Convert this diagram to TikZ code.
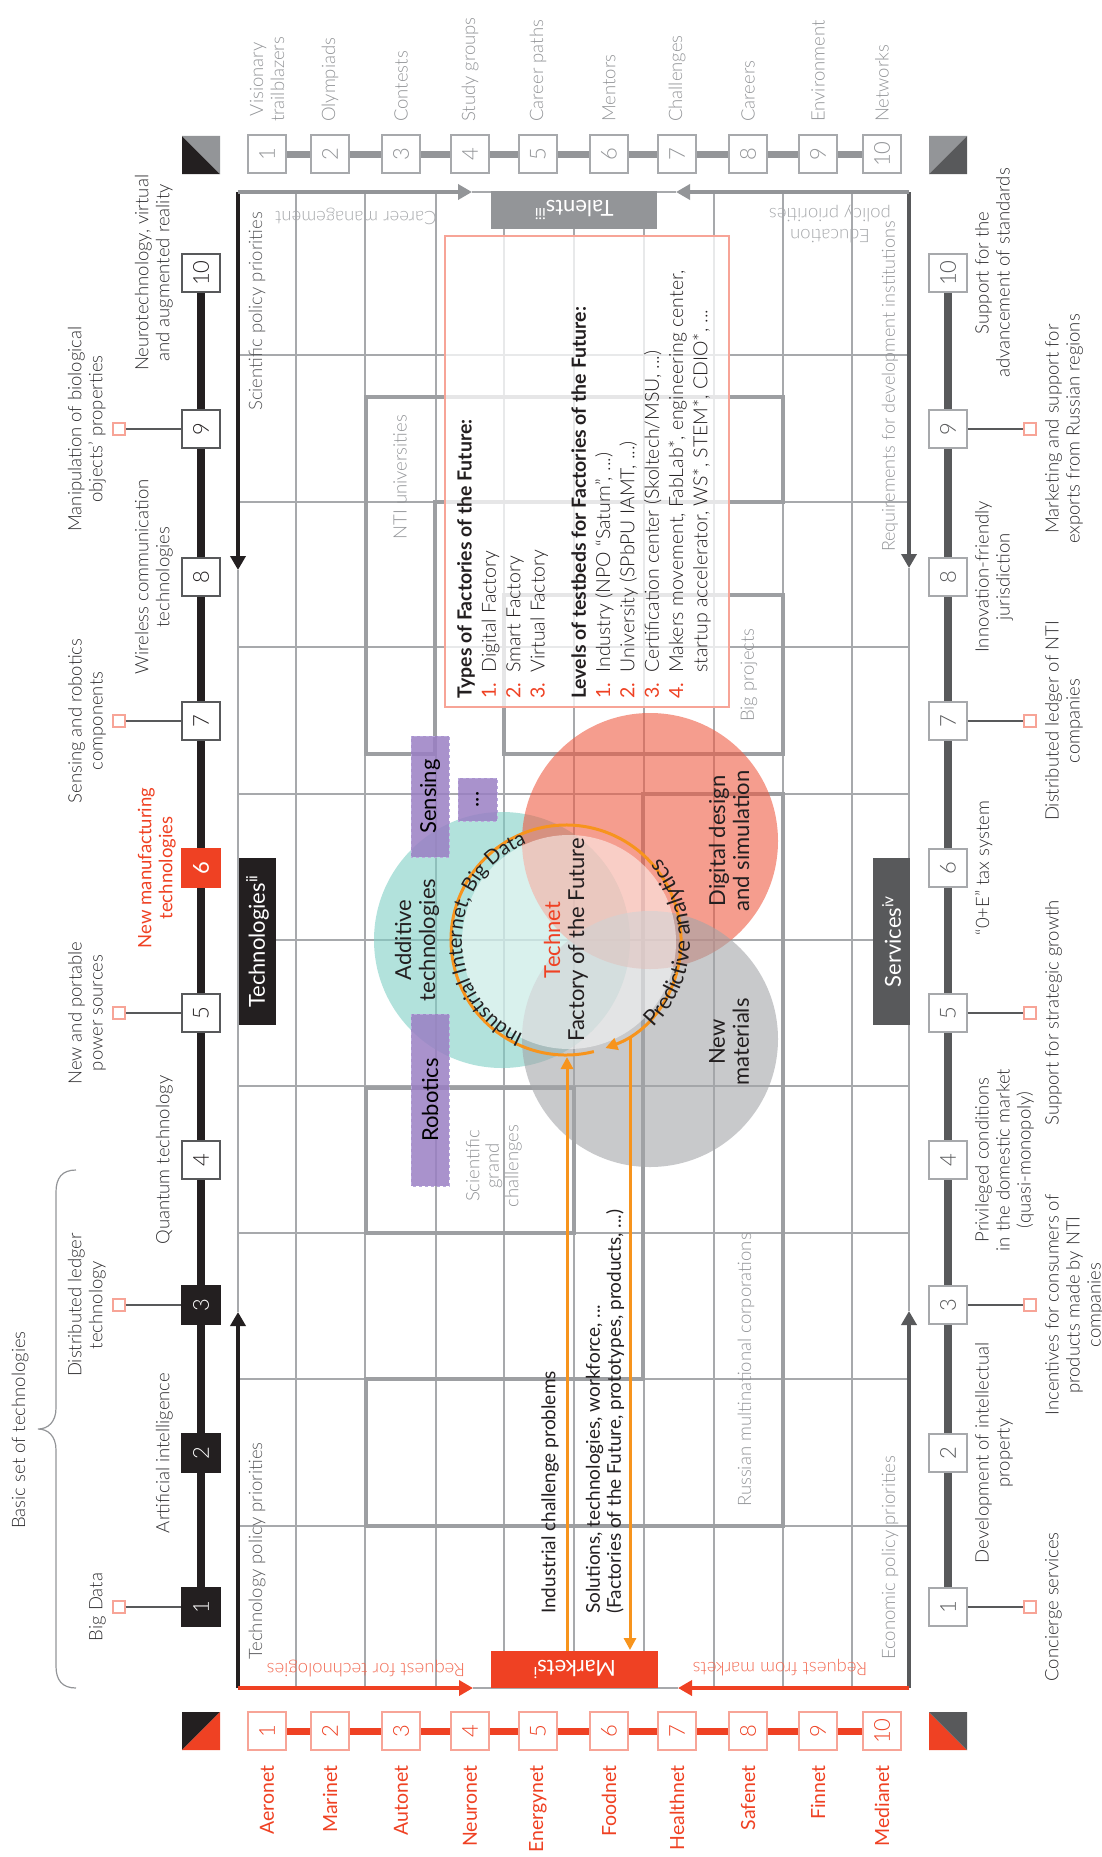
\documentclass[tikz,border=0pt]{standalone}
\usepackage{fontspec}
\setmainfont{Lato}[UprightFont={* Light}, BoldFont={* Bold}]
\newfontfamily\lreg{Lato}
\usetikzlibrary{arrows.meta,decorations.text}
\definecolor{nred}{HTML}{EF4123}
\definecolor{nsalmon}{HTML}{F7A497}
\definecolor{nblack}{HTML}{231F20}
\definecolor{ndark}{HTML}{58595B}
\definecolor{nmid}{HTML}{939598}
\definecolor{ngrid}{HTML}{A7A9AC}
\definecolor{nout}{HTML}{9D9FA2}
\definecolor{nlabel}{HTML}{2F2E30}
\definecolor{nlight}{HTML}{A7A9AC}
\definecolor{norange}{HTML}{F7941D}
\definecolor{nteal}{HTML}{7FCFC5}
\definecolor{ncoral}{HTML}{EE5C43}
\definecolor{ngrayc}{HTML}{A3A5A8}
\definecolor{npurple}{HTML}{9A7FC3}
\definecolor{npurpleb}{HTML}{B8A8DC}
\definecolor{nreqred}{HTML}{F26C55}
\newcommand{\fsz}[2]{\fontsize{#1}{#2}\selectfont}
\newcommand{\flnum}[1]{\makebox[1.35em][l]{\textcolor{nred}{\lreg #1}}}
\tikzset{
  numbox/.style={rotate=90, minimum size=38pt, inner sep=0pt, line width=1.3pt, font=\fsz{22}{22}},
  sqr/.style={draw=nsalmon, fill=white, minimum size=12pt, inner sep=0pt, line width=1.2pt},
  conn/.style={draw=ndark, line width=1.1pt},
  gridl/.style={draw=ngrid, line width=1.1pt},
  outl/.style={draw=nout, line width=3.2pt},
  lbl/.style={rotate=90, inner sep=0pt, align=center, text=nlabel, font=\fsz{18.5}{21}},
  flipped/.style={rotate=180, inner sep=0pt, align=center, font=\fsz{18.5}{21}},
  arrowtip/.style={-{Triangle[length=14pt,width=15pt]}},
  otip/.style={-{Triangle[length=12pt,width=12pt]}},
  titlebox/.style={inner sep=0pt, text=white, font=\lreg\fsz{22}{22}},
  pbox/.style={draw=npurpleb, dashed, line width=1pt, fill=npurple, fill opacity=.85, text opacity=1, rotate=90, inner sep=0pt, font=\lreg\fsz{22}{22}},
  circlbl/.style={rotate=90, inner sep=0pt, align=center, text=nblack, font=\lreg\fsz{22}{24}},
}
\begin{document}
\begin{tikzpicture}[x=1pt,y=-1pt]
\useasboundingbox (0,0) rectangle (1101,1857);

% ---------- grid ----------
\foreach \y in {355,502,647,794,940,1086,1233,1379,1526} \draw[gridl] (237,\y) -- (909,\y);
\foreach \x in {296,365,436,504,574,644,714,783,852} \draw[gridl] (\x,192) -- (\x,1688);

% ---------- thick outlines ----------
\draw[outl] (366,397) -- (783,397) -- (783,502) -- (435,502) -- (435,754) -- (366,754) -- cycle;
\draw[outl] (504,595) rectangle (783,754);
\draw[outl] (366,1088) rectangle (574,1233);
\draw[outl] (643,794) -- (783,794) -- (783,1526) -- (366,1526) -- (366,1379) -- (643,1379) -- cycle;

% ---------- circles ----------
\fill[nteal, opacity=.6] (502,940) circle[radius=128];
\fill[ncoral, opacity=.6] (650,841) circle[radius=128];
\fill[ngrayc, opacity=.6] (650,1039) circle[radius=128];
\fill[white, opacity=.5] (569,942) circle[radius=107];

% ---------- factory box ----------
\node[draw=nsalmon, fill=white, fill opacity=.75, line width=1.2pt, minimum width=284pt, minimum height=471pt, inner sep=0pt] (fbox) at (587,471.5) {};
\node[rotate=90, anchor=north west, align=left, inner sep=0pt, text=nblack, font=\fsz{19.5}{24.3}] (fbtext) at (457,699) {%
\textbf{Types of Factories of the Future:}\\
\flnum{1.}Digital Factory\\
\flnum{2.}Smart Factory\\
\flnum{3.}Virtual Factory\\[17pt]
\textbf{Levels of testbeds for Factories of the Future:}\\
\flnum{1.}Industry (NPO “Saturn”, ...)\\
\flnum{2.}University (SPbPU IAMT, ...)\\
\flnum{3.}Certification center (Skoltech/MSU, ...)\\
\flnum{4.}Makers movement, FabLab*, engineering center,\\
\hspace*{1.35em}startup accelerator, WS*, STEM*, CDIO*, ...};

% ---------- purple boxes ----------
\node[pbox, minimum width=172pt, minimum height=38pt] (robotics) at (430,1100) {Robotics};
\node[pbox, minimum width=121pt, minimum height=38pt] (sensing) at (430,796.5) {Sensing};
\node[pbox, minimum width=43pt, minimum height=39pt] (dots) at (477.5,799.5) {...};

% ---------- orange cycle ----------
\coordinate (oc) at (566,940);
\draw[norange, line width=3pt, otip] (oc) ++(76:115) arc[start angle=76, end angle=430, radius=115];
\coordinate (o1b) at (567,1651);
\coordinate (o1t) at (567,1057);
\coordinate (o2t) at (630,1036);
\coordinate (o2b) at (630,1650);
\draw[norange, line width=3pt, otip] (o1b) -- (o1t);
\draw[norange, line width=3pt, otip] (o2t) -- (o2b);
\path[decorate, decoration={text along path, text align=center, text color=nblack,
  text={|\lreg\fsz{20}{20}|Industrial Internet{,} Big Data}}]
  (oc) ++(98:104) arc[start angle=98, end angle=264, radius=104];
\path[decorate, decoration={text along path, text align=center, text color=nblack,
  text={|\lreg\fsz{22}{22}|Predictive analytics}}]
  (oc) ++(52:124) arc[start angle=52, end angle=-48, radius=124];

% circle texts
\node[circlbl] (additive) at (417,940) {Additive\\technologies};
\node[circlbl] (digital) at (729,841) {Digital design\\and simulation};
\node[circlbl] (newmat) at (729,1042) {New\\materials};
\node[circlbl] (technet) at (566,940) {\textcolor{nred}{Technet}\\Factory of the Future};

% ---------- grid texts ----------
\node[lbl, text=nmid] (ntiu) at (400,477) {NTI universities};
\node[lbl, text=nmid] (bigp) at (749,675) {Big projects};
\node[lbl, text=nmid, font=\fsz{18.5}{19.5}] (sgc) at (494,1166) {Scientific\\grand\\challenges};
\node[lbl, text=nmid] (rmc) at (746,1370) {Russian multinational corporations};
\node[lbl, anchor=west, text=nblack, font=\lreg\fsz{19}{21}] (icp) at (550,1614) {Industrial challenge problems};
\node[lbl, anchor=west, align=left, text=nblack, font=\lreg\fsz{19}{21}] (sol) at (605,1614) {Solutions, technologies, workforce, ...\\(Factories of the Future, prototypes, products, ...)};

% ---------- frame ----------
\coordinate (fTL) at (238,192);
\coordinate (fTR) at (909,192);
\coordinate (fBL) at (238,1688);
\coordinate (fBR) at (909,1688);
\coordinate (spTip) at (238,570);
\coordinate (tpTip) at (238,1312);
\coordinate (rdTip) at (909,568);
\coordinate (epTip) at (909,1311);
\coordinate (cmTip) at (472,192);
\coordinate (epTipT) at (676,192);
\coordinate (rtTip) at (473,1688);
\coordinate (rmTip) at (678,1688);
\draw[ngrid, line width=1.1pt] (spTip) -- (tpTip);
\draw[ngrid, line width=1.1pt] (rdTip) -- (epTip);
\draw[ngrid, line width=1.1pt] (cmTip) -- (epTipT);
\draw[ngrid, line width=1.1pt] (rtTip) -- (rmTip);
\draw[nblack, line width=3.6pt, arrowtip] (fTL) -- (spTip);
\draw[nblack, line width=3.6pt, arrowtip] (fBL) -- (tpTip);
\draw[ndark, line width=3.6pt, arrowtip] (fTR) -- (rdTip);
\draw[ndark, line width=3.6pt, arrowtip] (fBR) -- (epTip);
\draw[nmid, line width=4pt, arrowtip] (fTL) -- (cmTip);
\draw[nmid, line width=4pt, arrowtip] (fTR) -- (epTipT);
\draw[nred, line width=3.6pt, arrowtip] (fBL) -- (rtTip);
\draw[nred, line width=3.6pt, arrowtip] (fBR) -- (rmTip);

% title boxes
\node[titlebox, fill=nblack, rotate=90, minimum width=167pt, minimum height=37pt] (techbox) at (257.5,941.5) {Technologies\textsuperscript{ii}};
\node[titlebox, fill=ndark, rotate=90, minimum width=167pt, minimum height=37pt] (servbox) at (891.5,941.5) {Services\textsuperscript{iv}};
\node[titlebox, fill=nmid, rotate=180, minimum width=166pt, minimum height=38pt] (talbox) at (574,210) {Talents\textsuperscript{iii}};
\node[titlebox, fill=nred, rotate=180, minimum width=167pt, minimum height=37pt] (markbox) at (574.5,1669.5) {Markets\textsuperscript{i}};

% frame texts
\node[lbl, anchor=west, text=ndark] (tpp) at (257,1660) {Technology policy priorities};
\node[lbl, anchor=west, text=ndark] (spp) at (257,411) {Scientific policy priorities};
\node[lbl, anchor=west, text=nmid] (epp) at (890,1660) {Economic policy priorities};
\node[lbl, anchor=west, text=nmid, font=\fsz{18}{21}] (rdi) at (890,552) {Requirements for development institutions};
\node[flipped, text=nlight] (cman) at (356,216) {Career management};
\node[flipped, text=nlight] (edu) at (830,224) {Education\\policy priorities};
\node[flipped, text=nreqred] (rft) at (366,1668) {Request for technologies};
\node[flipped, text=nreqred] (rfm) at (780,1668) {Request from markets};

% ---------- corner squares ----------
\fill[nblack] (182,136) -- (182,174) -- (220,174) -- cycle;
\fill[nmid] (182,136) -- (220,136) -- (220,174) -- cycle;
\fill[nblack] (182,1712) -- (220,1712) -- (182,1750) -- cycle;
\fill[nred] (220,1712) -- (220,1750) -- (182,1750) -- cycle;
\fill[nred] (929,1712) -- (929,1750) -- (967,1750) -- cycle;
\fill[ndark] (929,1712) -- (967,1712) -- (967,1750) -- cycle;
\fill[nmid] (929,136) -- (967,136) -- (929,174) -- cycle;
\fill[ndark] (967,136) -- (967,174) -- (929,174) -- cycle;

% ---------- technologies column ----------
\foreach \i/\y in {1/1607,2/1453,3/1305,4/1160,5/1013,6/868,7/721,8/577,9/429,10/273}
  \coordinate (tc\i) at (201,\y);
\draw[nblack, line width=7.5pt] (tc10) -- (tc1);
\foreach \i in {1,2,3}
  \node[numbox, draw=nblack, fill=nblack, text=white] (t\i) at (tc\i) {\i};
\foreach \i in {4,5,7,8,9,10}
  \node[numbox, draw=ndark, fill=white, text=nblack] (t\i) at (tc\i) {\i};
\node[numbox, draw=nred, fill=nred, text=white, font=\lreg\fsz{22}{22}] (t6) at (tc6) {6};
\foreach \i/\y in {1/1607,3/1305,5/1013,7/721,9/429}{
  \node[sqr] (tsq\i) at (119,\y) {};
  \draw[conn] (tsq\i) -- (t\i);
}
\node[lbl, anchor=south] (tl1) at (106,1607) {Big Data};
\node[lbl, anchor=south] (tl3) at (106,1305) {Distributed ledger\\technology};
\node[lbl, anchor=south] (tl5) at (106,1013) {New and portable\\power sources};
\node[lbl, anchor=south] (tl7) at (106,721) {Sensing and robotics\\components};
\node[lbl, anchor=south] (tl9) at (106,429) {Manipulation of biological\\objects’ properties};
\node[lbl, anchor=south] (tl2) at (173,1453) {Artificial intelligence};
\node[lbl, anchor=south] (tl4) at (173,1160) {Quantum technology};
\node[lbl, anchor=south, text=nred, font=\lreg\fsz{18.5}{21}] (tl6) at (176,868) {New manufacturing\\technologies};
\node[lbl, anchor=south] (tl8) at (173,577) {Wireless communication\\technologies};
\node[lbl, anchor=south] (tl10) at (173,273) {Neurotechnology, virtual\\and augmented reality};

% brace
\draw[nmid, line width=1.2pt] (76,1170) .. controls (62,1170) and (56,1178) .. (56,1192) -- (56,1408)
  .. controls (56,1422) and (48,1429) .. (38,1429) .. controls (48,1429) and (56,1436) .. (56,1450)
  -- (56,1666) .. controls (56,1680) and (62,1688) .. (76,1688);
\node[lbl] (basic) at (20,1430) {Basic set of technologies};

% ---------- services column ----------
\foreach \i/\y in {1/1607,2/1453,3/1305,4/1160,5/1013,6/868,7/721,8/577,9/429,10/273}
  \coordinate (sc\i) at (948,\y);
\draw[ndark, line width=7.5pt] (sc10) -- (sc1);
\foreach \i in {1,...,10}
  \node[numbox, draw=nlight, fill=white, text=ndark] (s\i) at (sc\i) {\i};
\foreach \i/\y in {1/1607,3/1305,5/1013,7/721,9/429}{
  \node[sqr] (ssq\i) at (1030,\y) {};
  \draw[conn] (s\i) -- (ssq\i);
}
\node[lbl, anchor=north] (sl1) at (1045,1607) {Concierge services};
\node[lbl, anchor=north] (sl3) at (1045,1305) {Incentives for consumers of\\products made by NTI\\companies};
\node[lbl, anchor=north] (sl5) at (1045,1013) {Support for strategic growth};
\node[lbl, anchor=north] (sl7) at (1045,721) {Distributed ledger of NTI\\companies};
\node[lbl, anchor=north] (sl9) at (1045,429) {Marketing and support for\\exports from Russian regions};
\node[lbl, anchor=north] (sl2) at (975,1453) {Development of intellectual\\property};
\node[lbl, anchor=north] (sl4) at (975,1160) {Privileged conditions\\in the domestic market\\(quasi-monopoly)};
\node[lbl, anchor=north] (sl6) at (975,868) {“0+E” tax system};
\node[lbl, anchor=north] (sl8) at (975,577) {Innovation-friendly\\jurisdiction};
\node[lbl, anchor=north] (sl10) at (975,273) {Support for the\\advancement of standards};

% ---------- talents row ----------
\foreach \i/\x in {1/267,2/330,3/401,4/470,5/538,6/609,7/677,8/748,9/818,10/882}
  \coordinate (kc\i) at (\x,154);
\draw[nmid, line width=7pt] (kc1) -- (kc10);
\foreach \i in {1,...,10}
  \node[numbox, draw=nlight, fill=white, text=nmid] (k\i) at (kc\i) {\i};
\foreach \i/\x/\t in {1/267/{Visionary\\trailblazers},2/330/Olympiads,3/401/Contests,4/470/{Study groups},5/538/{Career paths},6/609/Mentors,7/677/Challenges,8/748/Careers,9/818/Environment,10/882/Networks}
  \node[lbl, anchor=west, text=nmid] (kl\i) at (\x,122) {\t};

% ---------- markets row ----------
\foreach \i/\x in {1/267,2/330,3/401,4/470,5/538,6/609,7/677,8/748,9/818,10/882}
  \coordinate (mc\i) at (\x,1731);
\draw[nred, line width=7pt] (mc1) -- (mc10);
\foreach \i in {1,...,10}
  \node[numbox, draw=nsalmon, fill=white, text=nred] (m\i) at (mc\i) {\i};
\foreach \i/\x/\t in {1/267/Aeronet,2/330/Marinet,3/401/Autonet,4/470/Neuronet,5/538/Energynet,6/609/Foodnet,7/677/Healthnet,8/748/Safenet,9/818/Finnet,10/882/Medianet}
  \node[lbl, anchor=east, text=nred, font=\lreg\fsz{19.5}{21}] (ml\i) at (\x,1765) {\t};

\end{tikzpicture}
\end{document}
